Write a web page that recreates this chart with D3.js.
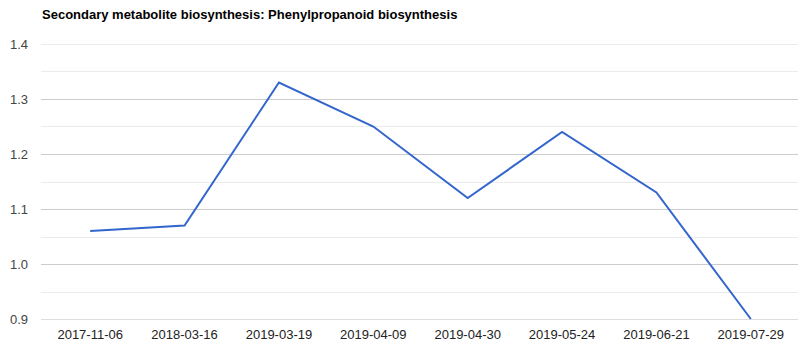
<!DOCTYPE html>
<html><head><meta charset="utf-8">
<script src="https://cdn.jsdelivr.net/npm/d3@7"></script>
<style>body{margin:0;background:#fff}svg{display:block;font-family:"Liberation Sans",Arial,sans-serif}</style>
</head><body><svg id="c" width="798" height="348"></svg>
<script>
const title = "Secondary metabolite biosynthesis: Phenylpropanoid biosynthesis";
const categories = ["2017-11-06","2018-03-16","2019-03-19","2019-04-09","2019-04-30","2019-05-24","2019-06-21","2019-07-29"];
const values = [1.06, 1.07, 1.33, 1.25, 1.12, 1.24, 1.13, 0.9];
const yTicks = [0.9, 1.0, 1.1, 1.2, 1.3, 1.4];
const yMinor = [0.95, 1.05, 1.15, 1.25, 1.35];

const svg = d3.select("#c");
const L = 43, R = 798, T = 44, B = 319;
const x = d3.scaleBand().domain(categories).range([L, R]);
const y = d3.scaleLinear().domain([0.9, 1.4]).range([B, T]);

svg.append("text").attr("x", 42).attr("y", 19).attr("font-size", 13).attr("font-weight", "bold").attr("fill", "#000").text(title);

svg.append("g").selectAll("line").data(yMinor).join("line")
  .attr("x1", L - 2).attr("x2", R).attr("y1", d => Math.round(y(d)) + 0.5).attr("y2", d => Math.round(y(d)) + 0.5)
  .attr("stroke", "#ebebeb");
svg.append("g").selectAll("line").data(yTicks).join("line")
  .attr("x1", L - 2).attr("x2", R).attr("y1", d => Math.round(y(d)) + 0.5).attr("y2", d => Math.round(y(d)) + 0.5)
  .attr("stroke", d => d === 1.4 ? "#ebebeb" : (d === 0.9 ? "#dddddd" : "#cccccc"));

const yAxis = d3.axisLeft(y).tickValues(yTicks).tickFormat(d3.format(".1f")).tickSize(0).tickPadding(0);
const gy = svg.append("g").attr("transform", `translate(28,0)`).call(yAxis);
gy.select(".domain").remove();
gy.selectAll("text").attr("font-size", 13).attr("fill", "#444").attr("font-family", "Liberation Sans, Arial, sans-serif");

const xAxis = d3.axisBottom(x).tickSize(0).tickPadding(0);
const gx = svg.append("g").attr("transform", `translate(0,${B + 11})`).call(xAxis);
gx.select(".domain").remove();
gx.selectAll("text").attr("font-size", 13).attr("fill", "#222").attr("font-family", "Liberation Sans, Arial, sans-serif");

const line = d3.line().x((d, i) => x(categories[i]) + x.bandwidth() / 2).y(d => y(d));
svg.append("path").datum(values).attr("d", line).attr("fill", "none").attr("stroke", "#3366cc").attr("stroke-width", 2);
</script></body></html>
